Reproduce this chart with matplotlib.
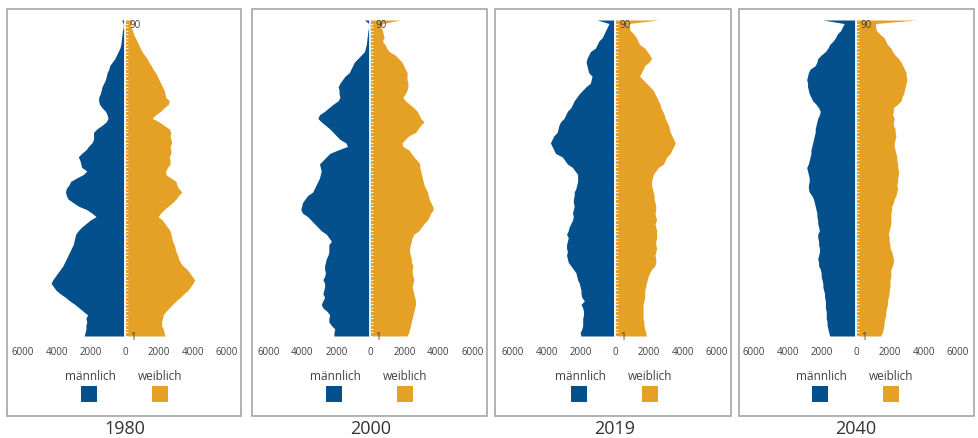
import matplotlib.pyplot as plt
from matplotlib.patches import Rectangle

# age groups 1..90, last entry = 90+
ages = list(range(1, 92))

years = ["1980", "2000", "2019", "2040"]

male_1980 = [
    2400, 2350, 2300, 2300, 2250, 2300, 2200, 2450, 2700, 2950,
    3250, 3500, 3800, 4050, 4200, 4350, 4250, 4100, 3950, 3800,
    3650, 3550, 3450, 3350, 3250, 3150, 3050, 3000, 2950, 2900,
    2750, 2550, 2300, 2050, 1700, 1950, 2250, 2750, 3050, 3350,
    3450, 3500, 3450, 3300, 3200, 2850, 2450, 2250, 2550, 2600,
    2650, 2750, 2550, 2300, 2150, 1950, 1850, 1850, 1850, 1650,
    1350, 1100, 1000, 1050, 1150, 1350, 1500, 1550, 1550, 1450,
    1400, 1350, 1250, 1150, 1100, 1050, 950, 900, 750, 600,
    500, 400, 300, 250, 220, 200, 170, 150, 100, 100,
    200]
female_1980 = [
    2350, 2300, 2250, 2150, 2150, 2200, 2250, 2400, 2600, 2800,
    3000, 3250, 3450, 3700, 3850, 4000, 4100, 3950, 3800, 3650,
    3400, 3250, 3150, 3100, 3000, 2950, 2900, 2800, 2750, 2700,
    2650, 2500, 2350, 2200, 1950, 2100, 2300, 2550, 2800, 3000,
    3150, 3350, 3150, 3050, 3000, 2700, 2400, 2400, 2500, 2650,
    2650, 2600, 2700, 2700, 2650, 2750, 2700, 2650, 2700, 2600,
    2300, 2000, 1600, 1800, 2100, 2300, 2550, 2600, 2400, 2350,
    2300, 2200, 2100, 2000, 1900, 1800, 1650, 1550, 1400, 1300,
    1150, 1000, 900, 800, 700, 600, 500, 450, 350, 350,
    450]

male_2000 = [
    2150, 2150, 2100, 2300, 2450, 2450, 2400, 2550, 2800, 2900,
    2800, 2700, 2800, 2750, 2700, 2700, 2800, 2700, 2650, 2700,
    2700, 2650, 2600, 2500, 2450, 2450, 2450, 2300, 2450, 2600,
    2900, 3100, 3300, 3500, 3700, 4000, 4100, 4050, 4000, 3850,
    3700, 3400, 3300, 3200, 3100, 3000, 2950, 2900, 2950, 3000,
    2800, 2600, 2400, 1900, 1350, 1450, 1800, 2000, 2200, 2400,
    2650, 2900, 3100, 3000, 2700, 2450, 2200, 1900, 1800, 1850,
    1850, 1900, 1800, 1650, 1500, 1250, 1150, 1050, 950, 750,
    550, 350, 300, 250, 220, 200, 170, 150, 100, 100,
    350]
female_2000 = [
    2150, 2250, 2300, 2350, 2400, 2450, 2500, 2550, 2600, 2650,
    2650, 2600, 2550, 2500, 2450, 2500, 2550, 2500, 2450, 2450,
    2500, 2400, 2400, 2350, 2300, 2300, 2350, 2400, 2450, 2550,
    2850, 3000, 3150, 3350, 3450, 3550, 3700, 3650, 3550, 3450,
    3400, 3350, 3250, 3150, 3100, 3050, 3000, 2950, 2900, 2900,
    2750, 2550, 2400, 2250, 1900, 1850, 2050, 2250, 2650, 2800,
    2950, 3150, 2950, 2850, 2750, 2550, 2300, 2050, 1900, 2050,
    2150, 2200, 2200, 2150, 2150, 2150, 2050, 1950, 1850, 1650,
    1450, 1100, 950, 850, 700, 800, 750, 700, 600, 700,
    1750]

male_2019 = [
    2000, 2050, 1950, 1900, 1900, 1900, 1850, 1850, 1900, 2000,
    1800, 1950, 2000, 2000, 2050, 2100, 2200, 2250, 2300, 2450,
    2600, 2750, 2800, 2850, 2800, 2850, 2850, 2800, 2750, 2850,
    2750, 2700, 2600, 2500, 2450, 2500, 2450, 2400, 2450, 2450,
    2400, 2400, 2300, 2250, 2200, 2200, 2200, 2350, 2500, 2800,
    2950, 3100, 3500, 3600, 3700, 3800, 3700, 3600, 3400, 3350,
    3300, 3200, 3000, 2900, 2800, 2600, 2500, 2400, 2250, 2100,
    1900, 1700, 1450, 1400, 1350, 1550, 1600, 1650, 1700, 1650,
    1550, 1450, 1150, 1050, 950, 750, 650, 550, 450, 350,
    1050]
female_2019 = [
    1850, 1800, 1750, 1700, 1700, 1650, 1650, 1650, 1650, 1650,
    1700, 1750, 1750, 1750, 1800, 1850, 1900, 1950, 2050, 2150,
    2350, 2400, 2400, 2350, 2400, 2450, 2400, 2400, 2450, 2450,
    2450, 2400, 2350, 2450, 2400, 2350, 2400, 2400, 2350, 2300,
    2300, 2250, 2200, 2150, 2150, 2200, 2250, 2400, 2550, 2850,
    2950, 3050, 3250, 3350, 3450, 3550, 3450, 3350, 3250, 3200,
    3150, 3050, 2950, 2900, 2800, 2700, 2650, 2550, 2450, 2350,
    2250, 2050, 1850, 1650, 1450, 1550, 1650, 1750, 2000, 2150,
    2050, 1900, 1750, 1450, 1350, 1250, 1100, 900, 850, 800,
    2550]

male_2040 = [
    1550, 1600, 1650, 1700, 1700, 1750, 1750, 1750, 1800, 1800,
    1800, 1850, 1850, 1900, 1950, 1950, 2000, 2050, 2050, 2100,
    2200, 2200, 2250, 2200, 2150, 2150, 2200, 2200, 2250, 2250,
    2150, 2200, 2250, 2250, 2300, 2300, 2350, 2400, 2450, 2500,
    2600, 2750, 2800, 2800, 2750, 2750, 2800, 2850, 2900, 2800,
    2750, 2700, 2650, 2650, 2600, 2550, 2500, 2450, 2400, 2400,
    2350, 2300, 2250, 2150, 2100, 2200, 2350, 2550, 2650, 2750,
    2800, 2850, 2850, 2900, 2850, 2800, 2700, 2400, 2300, 2250,
    2050, 1800, 1650, 1550, 1350, 1200, 1100, 900, 800, 700,
    1950]
female_2040 = [
    1450, 1550, 1600, 1650, 1650, 1700, 1750, 1750, 1800, 1850,
    1850, 1900, 1950, 1950, 2000, 2000, 2000, 2050, 2050, 2050,
    2150, 2200, 2200, 2150, 2100, 2000, 2000, 1950, 1950, 1900,
    1950, 2000, 2050, 2050, 2050, 2050, 2100, 2100, 2200, 2250,
    2350, 2400, 2450, 2400, 2450, 2450, 2500, 2500, 2450, 2450,
    2400, 2400, 2350, 2300, 2250, 2250, 2300, 2350, 2300, 2300,
    2200, 2200, 2250, 2150, 2200, 2200, 2450, 2650, 2700, 2800,
    2850, 2900, 2950, 3000, 2950, 2950, 2850, 2750, 2650, 2500,
    2300, 2150, 2050, 1850, 1750, 1650, 1400, 1200, 1150, 1150,
    3550]

males = [male_1980, male_2000, male_2019, male_2040]
females = [female_1980, female_2000, female_2019, female_2040]

BLUE = "#03508c"
ORANGE = "#e5a125"
TXT = "#404040"

plt.rcParams['font.family'] = ['Open Sans', 'DejaVu Sans']

W, H = 979, 438
fig = plt.figure(figsize=(W / 100, H / 100), dpi=100)

zeros = [125, 370.5, 615, 856]          # pixel x of the zero line in each panel
boxes = [(7, 241), (252, 487), (495, 731), (739, 974)]

for i in range(4):
    z = zeros[i]
    ax = fig.add_axes([(z - 102) / W, (H - 336) / H, 204 / W, 316 / H])
    ax.fill_betweenx(ages, [-v for v in males[i]], 0, color=BLUE, lw=0)
    ax.fill_betweenx(ages, 0, females[i], color=ORANGE, lw=0)
    ax.set_xlim(-6000, 6000)
    ax.set_ylim(1, 91)
    ax.patch.set_visible(False)
    for s in ['top', 'left', 'bottom']:
        ax.spines[s].set_visible(False)
    ax.spines['right'].set_position(('data', 0))
    ax.spines['right'].set_color('white')
    ax.spines['right'].set_linewidth(1.3)
    ax.yaxis.tick_right()
    ax.set_yticks([1, 90])
    ax.set_yticklabels(['1', '90'])
    ax.set_yticks(ages[:-1], minor=True)
    ax.tick_params(axis='y', which='both', direction='out', color='#f2f2f2',
                   length=2.5, width=0.7, labelcolor=TXT, labelsize=7, pad=1)
    xt = [-6000, -4000, -2000, 0, 2000, 4000, 6000]
    ax.set_xticks(xt)
    ax.set_xticklabels([str(abs(v)) for v in xt])
    ax.tick_params(axis='x', length=0, labelsize=7, labelcolor=TXT, pad=8)

    # panel frame
    x0, x1 = boxes[i]
    fig.add_artist(Rectangle((x0 / W, (H - 416) / H), (x1 - x0) / W, 407 / H,
                             transform=fig.transFigure, fill=False,
                             edgecolor='#a6a6a6', lw=1.2))
    # legend
    fig.text((z - 35) / W, (H - 377) / H, "männlich", ha='center', va='center',
             fontsize=8.5, color=TXT)
    fig.text((z + 35) / W, (H - 377) / H, "weiblich", ha='center', va='center',
             fontsize=8.5, color=TXT)
    fig.add_artist(Rectangle(((z - 44) / W, (H - 402) / H), 16 / W, 16 / H,
                             transform=fig.transFigure, color=BLUE, lw=0))
    fig.add_artist(Rectangle(((z + 27) / W, (H - 402) / H), 16 / W, 16 / H,
                             transform=fig.transFigure, color=ORANGE, lw=0))
    # year label
    fig.text(z / W, (H - 429) / H, years[i], ha='center', va='center',
             fontsize=13, color='#333333')

fig.savefig("out.png", dpi=100)
